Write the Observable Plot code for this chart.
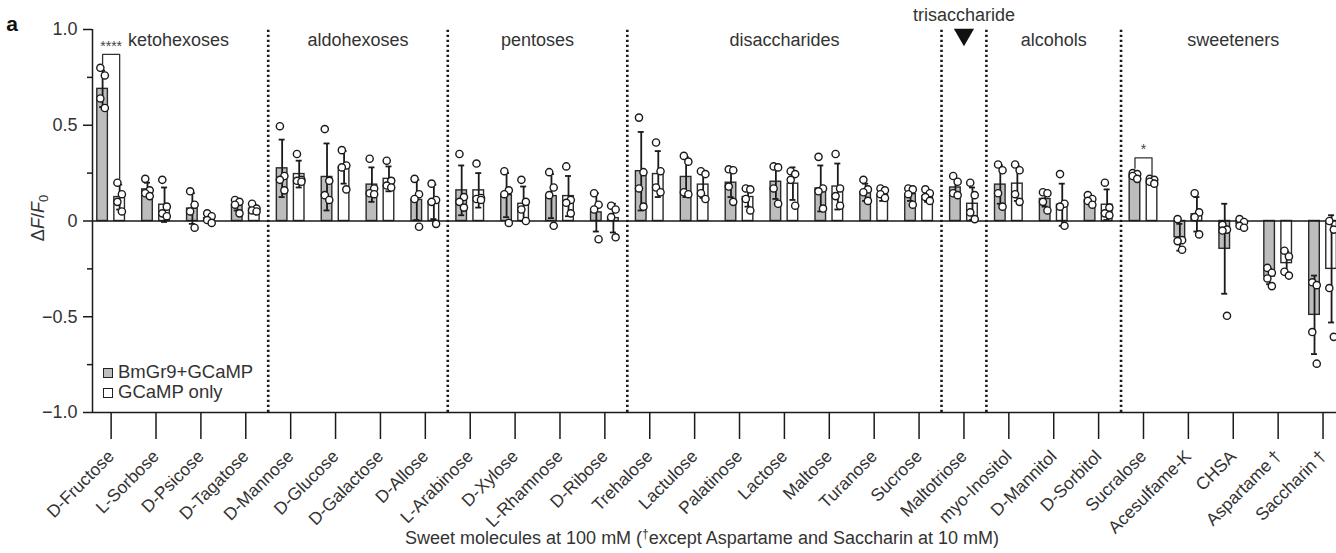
<!DOCTYPE html>
<html><head><meta charset="utf-8">
<script src="https://cdn.jsdelivr.net/npm/d3@7"></script>
<script src="https://cdn.jsdelivr.net/npm/@observablehq/plot@0.6"></script>
<style>
html,body{margin:0;padding:0;overflow:hidden;background:#fff;}
#chart{position:relative;width:1336px;height:553px;overflow:hidden;}
#legend{position:absolute;left:103px;top:362px;font:18.5px 'Liberation Sans',Arial,sans-serif;color:#333;line-height:20px;}
#legend .sw{display:inline-block;width:8px;height:8px;border:1.3px solid #222;margin-right:5px;vertical-align:baseline;}
</style></head><body><div id="chart"></div>
<script>
// ---------- data ----------
const molecules = ["D-Fructose","L-Sorbose","D-Psicose","D-Tagatose","D-Mannose","D-Glucose","D-Galactose","D-Allose",
  "L-Arabinose","D-Xylose","L-Rhamnose","D-Ribose","Trehalose","Lactulose","Palatinose","Lactose","Maltose","Turanose",
  "Sucrose","Maltotriose","myo-Inositol","D-Mannitol","D-Sorbitol","Sucralose","Acesulfame-K","CHSA","Aspartame\u2009\u2020","Saccharin\u2009\u2020"];
const groupNames = ["ketohexoses","aldohexoses","pentoses","disaccharides","trisaccharide","alcohols","sweeteners"];
const groupStart = [0,4,8,12,19,20,23];
const groupEnd   = [3,7,11,18,19,22,27];
const seriesNames = ["BmGr9+GCaMP","GCaMP only"];

const bmMean = [0.69,0.165,0.065,0.085,0.275,0.23,0.19,0.11,0.16,0.135,0.13,0.045,0.26,0.23,0.2,0.205,0.17,0.15,0.14,0.175,0.19,0.115,0.11,0.24,-0.085,-0.145,-0.29,-0.49];
const bmSD   = [0.095,0.035,0.08,0.03,0.15,0.175,0.09,0.105,0.13,0.115,0.115,0.10,0.205,0.105,0.075,0.09,0.12,0.045,0.035,0.045,0.10,0.04,0.02,0.015,0.07,0.235,0.04,0.205];
const bmPoints = [[0.80,0.76,0.64,0.59],[0.22,0.16,0.145,0.13],[0.155,0.085,0.05,-0.035],[0.11,0.10,0.085,0.04],
  [0.495,0.235,0.215,0.16],[0.48,0.21,0.135,0.11],[0.325,0.17,0.145,0.14],[0.22,0.14,0.115,-0.03],
  [0.35,0.125,0.10,0.07],[0.26,0.16,0.14,-0.01],[0.255,0.175,0.135,-0.025],[0.145,0.085,0.06,-0.095],
  [0.54,0.255,0.17,0.075],[0.34,0.31,0.15,0.14],[0.27,0.265,0.18,0.10],[0.285,0.28,0.17,0.09],
  [0.335,0.17,0.155,0.065],[0.215,0.165,0.15,0.105],[0.17,0.165,0.14,0.085],[0.235,0.205,0.145,0.135],
  [0.295,0.265,0.145,0.075],[0.15,0.145,0.10,0.055],[0.135,0.115,0.105,0.085],[0.25,0.245,0.235,0.22],
  [0.01,-0.10,-0.105,-0.15],[-0.02,-0.045,-0.05,-0.495],[-0.245,-0.27,-0.30,-0.34],[-0.32,-0.335,-0.58,-0.745]];

const gcMean = [0.125,0.085,0.015,0.065,0.245,0.28,0.22,0.10,0.16,0.09,0.13,0.015,0.245,0.19,0.125,0.195,0.18,0.135,0.13,0.09,0.195,0.085,0.085,0.21,0.035,-0.015,-0.22,-0.25];
const gcSD   = [0.065,0.09,0.02,0.018,0.07,0.085,0.065,0.09,0.09,0.09,0.105,0.075,0.12,0.07,0.05,0.085,0.12,0.03,0.03,0.085,0.09,0.11,0.08,0.012,0.09,0.025,0.06,0.28];
const gcPoints = [[0.20,0.14,0.10,0.05],[0.215,0.075,0.04,0.025],[0.04,0.025,0.005,-0.01],[0.09,0.065,0.055,0.05],
  [0.35,0.215,0.21,0.205],[0.37,0.29,0.28,0.165],[0.315,0.21,0.185,0.175],[0.195,0.11,0.10,-0.015],
  [0.30,0.12,0.115,0.11],[0.215,0.10,0.06,0.0],[0.285,0.11,0.095,0.04],[0.08,0.06,0.02,-0.085],
  [0.41,0.26,0.175,0.15],[0.26,0.245,0.145,0.115],[0.17,0.165,0.115,0.055],[0.26,0.245,0.215,0.08],
  [0.35,0.17,0.13,0.08],[0.17,0.16,0.14,0.12],[0.165,0.145,0.125,0.105],[0.2,0.135,0.045,0.01],
  [0.295,0.265,0.14,0.10],[0.245,0.09,0.075,-0.025],[0.2,0.07,0.04,0.03],[0.22,0.215,0.205,0.195],
  [0.145,0.045,0.02,-0.07],[0.01,-0.005,-0.025,-0.035],[-0.155,-0.185,-0.265,-0.285],[0.0,-0.045,-0.35,-0.605]];

const sigIndex = [0,23];
const sigLabels = ["****","*"];
const sigTop = [0.87,0.33];
const sigLeftBottom = [0.82,0.275];
const sigRightBottom = [0.22,0.23];

const yTicks = [-1,-0.5,0,0.5,1];
const yTickLabels = ["\u22121.0","\u22120.5","0","0.5","1.0"];
const yMinorTicks = [-0.75,-0.25,0.25,0.75];

// ---------- derived tables ----------
const offsets = [-0.19, 0.19];
const half = 0.118;
const capHalf = 0.067;
const means = [bmMean, gcMean], sds = [bmSD, gcSD], pts = [bmPoints, gcPoints];
const rows = [];
molecules.forEach((m, i) => [0,1].forEach(s => rows.push({i, s, xc: i + offsets[s], mean: means[s][i], sd: sds[s][i]})));
const pointRows = rows.flatMap(r => pts[r.s][r.i].map((v, j) => ({x: r.xc + (j % 2 ? 0.05 : -0.05), y: v})));
const capRows = rows.flatMap(r => [r.mean - r.sd, r.mean + r.sd].map(y => ({y, x1: r.xc - capHalf, x2: r.xc + capHalf})));
const groups = groupNames.map((g, k) => ({name: g, x: (groupStart[k] + groupEnd[k]) / 2}));
const separators = groupEnd.slice(0, -1).map(e => e + 0.5);
const bracketPts = sigIndex.flatMap((i, k) => [
  {k, x: i + offsets[0], y: sigLeftBottom[k]}, {k, x: i + offsets[0], y: sigTop[k]},
  {k, x: i + offsets[1], y: sigTop[k]}, {k, x: i + offsets[1], y: sigRightBottom[k]}]);
const sigText = sigIndex.map((i, k) => ({x: i, y: sigTop[k], t: sigLabels[k]}));
const xDomain = [-0.415, 27.3];

const font = "'Liberation Sans', Arial, Helvetica, sans-serif";
const ink = "#1a1a1a";
const txt = "#333";

const chart = Plot.plot({
  width: 1336, height: 553,
  marginLeft: 92, marginRight: 0, marginTop: 29, marginBottom: 141,
  x: {domain: xDomain, axis: null},
  y: {domain: [-1, 1], axis: null},
  style: {fontFamily: font, background: "white", color: txt, overflow: "visible"},
  marks: [
    Plot.ruleX(separators, {y1: -1, y2: 1, stroke: ink, strokeWidth: 2.6, strokeDasharray: "2.3,2.7"}),
    Plot.rectY(rows.filter(d => d.s === 0), {x1: d => d.xc - half, x2: d => d.xc + half, y1: 0, y2: "mean", fill: "#bdbdbd", stroke: "#2a2a2a", strokeWidth: 1.4}),
    Plot.rectY(rows.filter(d => d.s === 1), {x1: d => d.xc - half, x2: d => d.xc + half, y1: 0, y2: "mean", fill: "white", stroke: "#2a2a2a", strokeWidth: 1.4}),
    Plot.ruleY([0], {stroke: ink, strokeWidth: 1.5}),
    Plot.ruleX(rows, {x: "xc", y1: d => d.mean - d.sd, y2: d => d.mean + d.sd, stroke: ink, strokeWidth: 1.8}),
    Plot.ruleY(capRows, {y: "y", x1: "x1", x2: "x2", stroke: ink, strokeWidth: 1.8}),
    Plot.dot(pointRows, {x: "x", y: "y", r: 3.6, fill: "white", stroke: ink, strokeWidth: 1.4}),
    Plot.line(bracketPts, {x: "x", y: "y", z: "k", stroke: "#333", strokeWidth: 1.3}),
    Plot.text(sigText, {x: "x", y: "y", text: "t", dy: -8, fontSize: 14, fill: "#444"}),
    Plot.text(groups.filter(g => g.name !== "trisaccharide"), {x: "x", frameAnchor: "top", dy: 4, text: "name", fontSize: 18, fill: txt}),
    Plot.text(groups.filter(g => g.name === "trisaccharide"), {x: "x", frameAnchor: "top", dy: -21, text: "name", fontSize: 18, fill: txt}),
    Plot.dot(groups.filter(g => g.name === "trisaccharide"), {x: "x", frameAnchor: "top", dy: 5, symbol: "triangle", r: 7.5, rotate: 180, fill: "#111"}),
    Plot.ruleY([-1], {stroke: ink, strokeWidth: 1.5}),
    Plot.ruleX([xDomain[0]], {y1: -1, y2: 1, stroke: ink, strokeWidth: 1.5}),
    Plot.axisY({ticks: yTicks, tickFormat: d => yTickLabels[yTicks.indexOf(d)], tickSize: 9, tickPadding: 6, fontSize: 18, label: null, stroke: ink, strokeWidth: 1.5, fill: txt}),
    Plot.axisY({ticks: yMinorTicks, tickFormat: () => "", tickSize: 5, label: null, stroke: ink, strokeWidth: 1.5}),
    Plot.axisX({ticks: d3.range(molecules.length), tickFormat: i => molecules[i], tickRotate: -45, tickSize: 27, tickPadding: 14, fontSize: 17.5, label: null, stroke: ink, strokeWidth: 1.5, fill: txt})
  ]
});
document.getElementById("chart").appendChild(chart);

// extra text: panel letter, y label with italics/subscript, caption with superscript dagger
const svg = d3.select(chart);
svg.append("text").attr("x", 12).attr("y", 31).attr("font-family", font).attr("font-weight", "bold").attr("font-size", 21).attr("fill", "#111").text("a");
const yl = svg.append("text").attr("transform", "translate(44,218) rotate(-90)").attr("text-anchor", "middle").attr("font-family", font).attr("font-size", 18).attr("fill", txt);
yl.append("tspan").text("\u0394");
yl.append("tspan").attr("font-style", "italic").text("F");
yl.append("tspan").text("/");
yl.append("tspan").attr("font-style", "italic").text("F");
yl.append("tspan").attr("font-size", 13).attr("dy", 4).text("0");
const cap = svg.append("text").attr("x", 702).attr("y", 544).attr("text-anchor", "middle").attr("font-family", font).attr("font-size", 18).attr("fill", txt);
cap.append("tspan").text("Sweet molecules at 100 mM (");
cap.append("tspan").attr("font-size", 12).attr("dy", -6).text("\u2020");
cap.append("tspan").attr("dy", 6).text("except Aspartame and Saccharin at 10 mM)");

// legend (HTML, over the plot)
const fills = ["#bdbdbd", "white"];
const lg = d3.select("#chart").append("div").attr("id", "legend");
seriesNames.forEach((n, k) => {
  const row = lg.append("div");
  row.append("span").attr("class", "sw").style("background", fills[k]);
  row.append("span").text(n);
});
</script></body></html>
